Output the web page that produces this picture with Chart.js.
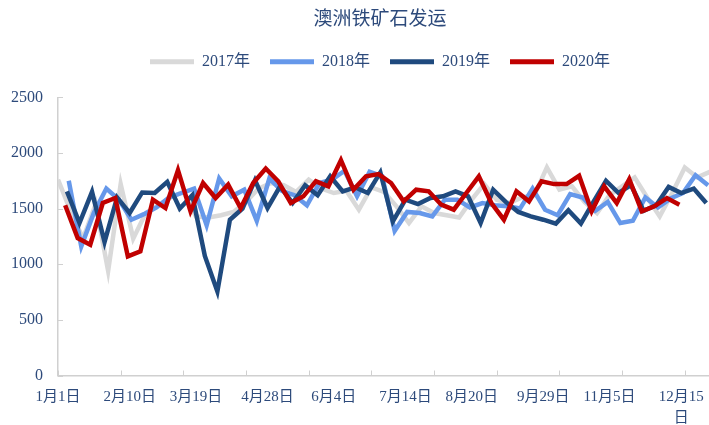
<!DOCTYPE html>
<html>
<head>
<meta charset="utf-8">
<script src="https://cdn.jsdelivr.net/npm/chart.js@4.4.1/dist/chart.umd.min.js"></script>
<style>
  html, body { margin: 0; padding: 0; background: #fff; overflow: hidden; }
  #wrap { width: 772px; height: 425px; }
</style>
</head>
<body>
<div id="wrap"><canvas id="chart"></canvas></div>
<script>
const years = ['2017年', '2018年', '2019年', '2020年'];
// first weekly date of each year's series
const firstDates = ['2017-01-01', '2018-01-07', '2019-01-06', '2020-01-05'];

const ship2017 = [1760, 1480, 1230, 1540, 940, 1720, 1230, 1460, 1530, 1600,
  1650, 1430, 1420, 1440, 1470, 1560, 1680, 1730, 1710, 1650,
  1760, 1680, 1640, 1660, 1490, 1690, 1650, 1520, 1370, 1520,
  1460, 1440, 1420, 1580, 1720, 1580, 1550, 1600, 1620, 1870,
  1670, 1700, 1560, 1460, 1620, 1700, 1780, 1600, 1430, 1640,
  1870, 1780, 1830];
const ship2018 = [1750, 1160, 1460, 1680, 1580, 1400, 1450, 1510, 1600, 1640,
  1680, 1350, 1770, 1610, 1670, 1390, 1770, 1660, 1620, 1530,
  1730, 1760, 1840, 1610, 1830, 1790, 1300, 1470, 1460, 1430,
  1580, 1580, 1510, 1550, 1530, 1520, 1500, 1680, 1490, 1440,
  1630, 1600, 1480, 1560, 1370, 1390, 1600, 1510, 1590, 1640,
  1800, 1710];
const ship2019 = [1655, 1370, 1650, 1200, 1600, 1460, 1645, 1640, 1740, 1500,
  1620, 1075, 755, 1400, 1500, 1755, 1505, 1700, 1550, 1710,
  1620, 1790, 1655, 1690, 1640, 1825, 1385, 1580, 1540, 1595,
  1610, 1655, 1610, 1370, 1670, 1560, 1470, 1430, 1400, 1365,
  1485, 1365, 1560, 1750, 1640, 1710, 1480, 1530, 1695, 1640,
  1680, 1550];
const ship2020 = [1530, 1235, 1175, 1550, 1595, 1070, 1115, 1580, 1505, 1845,
  1475, 1730, 1595, 1715, 1505, 1730, 1860, 1745, 1550, 1610,
  1745, 1700, 1935, 1670, 1790, 1810, 1730, 1565, 1670, 1655,
  1535, 1490, 1640, 1790, 1550, 1400, 1655, 1565, 1745, 1720,
  1720, 1795, 1475, 1700, 1550, 1765, 1475, 1520, 1595, 1535];

const tickLabels = ['1月1日', '2月10日', '3月19日', '4月28日', '6月4日', '7月14日', '8月20日', '9月29日', '11月5日', ['12月15', '日']];
const tickDates = ['01-01', '02-10', '03-19', '04-28', '06-04', '07-14', '08-20', '09-29', '11-05', '12-15'];

const colors = ['#D9D9D9', '#6698EA', '#1F4A7E', '#C00000'];
const textColor = '#2D4A7B';
const axisColor = '#D0D0D0';
const serif = "'Liberation Serif', 'Noto Sans CJK SC', serif";

function dayOfYear(dateStr) {
  const d = new Date(dateStr + 'T00:00:00Z');
  const start = Date.UTC(d.getUTCFullYear(), 0, 1);
  return Math.round((d - start) / 86400000);
}

const tickDays = tickDates.map(s => dayOfYear('2017-' + s));

function toPoints(values, firstDate) {
  const start = dayOfYear(firstDate);
  return values.map((v, i) => ({ x: start + 7 * i, y: v }));
}

const series = [ship2017, ship2018, ship2019, ship2020];

// small inside tick marks like the original
const tickMarks = {
  id: 'tickMarks',
  afterDraw(chart) {
    const { ctx, scales: { x, y } } = chart;
    ctx.save();
    ctx.strokeStyle = axisColor;
    ctx.lineWidth = 1;
    ctx.beginPath();
    y.ticks.forEach(t => {
      const py = Math.round(y.getPixelForValue(t.value)) + 0.5;
      ctx.moveTo(x.left, py);
      ctx.lineTo(x.left + 5, py);
    });
    for (let d = 0; d <= x.max; d += 35) {
      const px = Math.round(x.getPixelForValue(d)) + 0.5;
      ctx.moveTo(px, y.bottom);
      ctx.lineTo(px, y.bottom - 5);
    }
    ctx.stroke();
    ctx.restore();
  }
};

const legendSpace = {
  id: 'legendSpace',
  beforeInit(chart) {
    const fit = chart.legend.fit;
    chart.legend.fit = function () {
      fit.bind(chart.legend)();
      this.height += 17.5;
    };
  }
};

const ctx = document.getElementById('chart');

let mainChart = new Chart(ctx, {
  type: 'line',
  data: {
    datasets: series.map((vals, i) => ({
      label: years[i],
      data: toPoints(vals, firstDates[i]),
      borderColor: colors[i],
      backgroundColor: colors[i],
      borderWidth: 4.5,
      pointRadius: 0,
      tension: 0,
      order: 4 - i
    }))
  },
  options: {
    responsive: true,
    maintainAspectRatio: false,
    animation: false,
    devicePixelRatio: 1,
    layout: { padding: { left: 0, right: 12, top: 0, bottom: 0 } },
    plugins: {
      title: {
        display: true,
        text: '澳洲铁矿石发运',
        color: textColor,
        font: { family: "'Noto Sans CJK SC', sans-serif", size: 19, weight: 'normal' },
        padding: { top: 6, bottom: 5 }
      },
      legend: {
        display: true,
        labels: {
          color: textColor,
          font: { family: serif, size: 16 },
          boxWidth: 44,
          boxHeight: 5,
          padding: 20,
          sort: (a, b) => a.datasetIndex - b.datasetIndex,
          generateLabels: (chart) => Chart.defaults.plugins.legend.labels.generateLabels(chart)
            .map(l => ({ ...l, lineWidth: 0, fillStyle: l.strokeStyle }))
        }
      },
      tooltip: { enabled: false }
    },
    scales: {
      x: {
        type: 'linear',
        min: 0,
        max: 392,
        afterBuildTicks: (scale) => { scale.ticks = tickDays.map(v => ({ value: v })); },
        afterFit: (scale) => { scale.height = 49.5; },
        grid: { display: false, drawTicks: false },
        border: { display: true, color: axisColor, width: 1.5 },
        ticks: {
          autoSkip: false,
          maxRotation: 0,
          padding: 11,
          color: textColor,
          font: { family: serif, size: 15, lineHeight: 1.4 },
          callback: (value) => tickLabels[tickDays.indexOf(value)]
        }
      },
      y: {
        min: 0,
        max: 2500,
        afterFit: (scale) => { scale.width = 58; },
        grid: { display: false, drawTicks: false },
        border: { display: true, color: axisColor, width: 1.5 },
        ticks: {
          stepSize: 500,
          padding: 15,
          color: textColor,
          font: { family: serif, size: 16 },
          callback: (value) => String(value)
        }
      }
    }
  },
  plugins: [tickMarks, legendSpace]
});
</script>
</body>
</html>
